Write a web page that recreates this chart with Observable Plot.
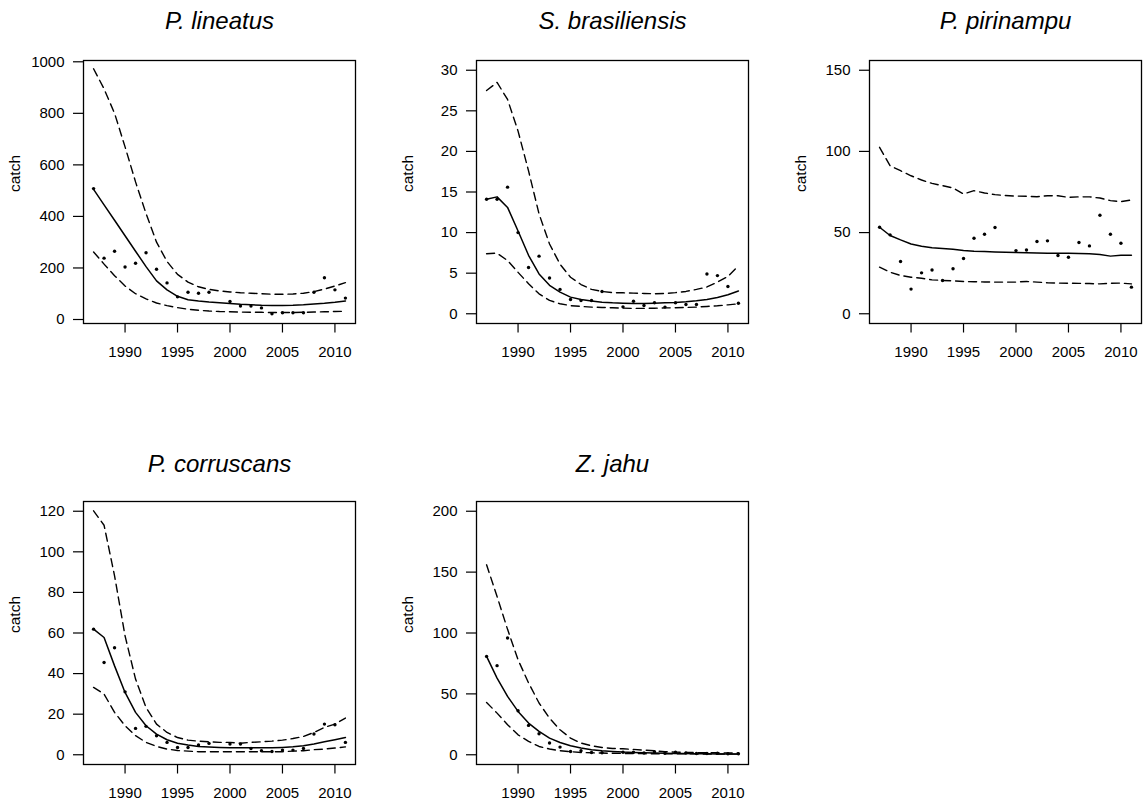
<!DOCTYPE html>
<html>
<head>
<meta charset="utf-8">
<script src="https://cdn.jsdelivr.net/npm/d3@7"></script>
<script src="https://cdn.jsdelivr.net/npm/@observablehq/plot@0.6"></script>
<style>
  html, body { margin: 0; padding: 0; background: #fff; }
  #wrap { position: relative; width: 1144px; height: 810px; overflow: hidden; background: #fff; }
  .panel { position: absolute; }
</style>
</head>
<body>
<div id="wrap"></div>
<script>
const years = [1987,1988,1989,1990,1991,1992,1993,1994,1995,1996,1997,1998,1999,2000,2001,2002,2003,2004,2005,2006,2007,2008,2009,2010,2011];
const xTicks = [1990,1995,2000,2005,2010];

// P. lineatus
const lineatusObs = [508,238,265,204,218,259,195,142,88,106,102,106,null,70,52,52,45,22,26,26,26,106,162,115,83];
const lineatusFit = [505,445,385,325,265,205,150,115,90,77,72,68,65,62,59,57,55,54,54,55,57,60,63,67,72];
const lineatusLo  = [262,215,170,130,100,80,64,54,46,40,36,33,31,30,29,28,28,27,27,27,28,29,30,31,32];
const lineatusHi  = [973,895,800,670,534,411,300,225,175,145,127,117,111,107,104,102,100,98,98,99,102,108,118,130,143];
const lineatusTicks = [0,200,400,600,800,1000];

// S. brasiliensis
const brasObs = [14.1,14.1,15.6,10.0,5.7,7.1,4.4,3.0,1.76,1.64,1.64,2.75,null,0.85,1.55,1.02,1.35,0.82,1.35,1.14,1.14,4.9,4.7,3.36,1.3];
const brasFit = [14.1,14.4,13.1,10.2,7.2,4.9,3.5,2.66,2.05,1.76,1.56,1.43,1.35,1.3,1.27,1.27,1.3,1.35,1.4,1.48,1.6,1.76,2.0,2.34,2.8];
const brasLo  = [7.4,7.46,6.56,5.1,3.7,2.46,1.64,1.23,1.0,0.9,0.82,0.78,0.74,0.7,0.66,0.66,0.68,0.72,0.74,0.78,0.82,0.9,0.98,1.1,1.23];
const brasHi  = [27.5,28.5,26.4,22.5,17.6,12.3,8.6,6.1,4.5,3.6,3.0,2.75,2.6,2.58,2.54,2.5,2.46,2.5,2.6,2.75,3.0,3.3,3.9,4.6,5.9];
const brasTicks = [0,5,10,15,20,25,30];

// P. pirinampu
const pirinObs = [53.3,48.6,32.2,15.2,25.2,27.0,20.5,27.7,34.0,46.5,49.0,53.1,null,38.9,39.3,44.5,44.9,35.9,34.8,43.9,41.8,60.7,49.0,43.4,16.4];
const pirinFit = [53.3,48.2,45.5,43.0,41.6,40.6,40.2,39.8,38.9,38.5,38.3,38.1,37.9,37.7,37.6,37.5,37.3,37.2,37.2,37.1,36.9,36.5,35.5,36.1,36.0];
const pirinLo  = [28.7,25.6,23.6,22.5,21.9,20.9,20.5,20.3,19.9,19.7,19.6,19.5,19.5,19.5,19.9,19.5,19.1,18.9,18.8,18.7,18.6,18.4,18.8,18.9,18.4];
const pirinHi  = [102.5,91.2,88.1,85,82.4,80.3,78.9,77.5,73.8,75.8,74.4,73.4,72.8,72.5,72.4,72.1,72.7,72.7,71.7,72.0,72.0,71.3,69.7,69.1,70.1];
const pirinTicks = [0,50,100,150];

// P. corruscans
const corrObs = [61.9,45.5,52.7,31.0,13.0,14.0,9.4,6.1,3.6,3.6,4.8,5.6,null,5.3,5.3,3.1,2.0,1.6,2.3,2.3,3.1,10.2,15.1,14.8,6.1];
const corrFit = [61.9,57.8,43.8,30.7,20.9,14.3,10.2,7.4,5.7,4.8,4.1,3.8,3.6,3.4,3.4,3.4,3.4,3.4,3.6,3.9,4.4,5.3,6.4,7.4,8.5];
const corrLo  = [33.2,29.9,20.9,14.3,9.4,6.1,4.1,2.8,2.1,1.8,1.5,1.5,1.5,1.5,1.5,1.5,1.5,1.5,1.5,1.8,2.0,2.5,2.8,3.3,3.9];
const corrHi  = [120.2,113.1,88.2,58.6,37.3,23.3,15.1,11.0,8.5,7.2,6.7,6.4,6.1,6.1,5.7,6.1,6.4,6.7,7.2,8.0,9.0,11.0,13.5,15.1,18.1];
const corrTicks = [0,20,40,60,80,100,120];

// Z. jahu
const jahuObs = [80.8,73.2,95.9,36.2,24.1,17.3,9.6,6.3,2.7,3.3,1.9,1.6,null,2.0,2.0,1.5,2.5,1.2,2.0,1.5,1.0,1.0,1.2,0.8,0.8];
const jahuFit = [80.8,63.0,47.9,35.6,26.0,19.2,13.7,10.1,7.4,5.5,4.1,3.3,2.7,2.2,1.9,1.6,1.4,1.3,1.1,1.0,0.9,0.8,0.7,0.65,0.6];
const jahuLo  = [43,34.2,24.7,16.4,11.0,6.8,4.7,3.3,2.5,1.9,1.6,1.4,1.2,1.1,1.0,0.9,0.85,0.8,0.8,0.75,0.7,0.65,0.6,0.55,0.5];
const jahuHi  = [156,130,103,78,59,42.5,30.1,20.5,13.7,9.6,7.4,6.0,5.2,4.9,4.4,3.8,3.3,2.5,2.2,1.9,1.8,1.7,1.6,1.5,1.4];
const jahuTicks = [0,50,100,150,200];

const FONT = "'Liberation Sans', Arial, Helvetica, sans-serif";

function panel(name, obs, fit, lo, hi, yDomain, yTicks, titleDy) {
  const rows = years.map((yr, i) => ({year: yr, obs: obs[i], fit: fit[i], lo: lo[i], hi: hi[i]}));
  const pts = rows.filter(d => d.obs != null);
  return Plot.plot({
    width: 358,
    height: 368,
    marginLeft: 83,
    marginRight: 3,
    marginTop: 60,
    marginBottom: 45,
    style: {fontFamily: FONT, fontSize: "15px", color: "#000", background: "transparent", overflow: "visible"},
    x: {domain: [1986.04, 2011.96]},
    y: {domain: yDomain},
    marks: [
      Plot.axisX({ticks: xTicks, tickFormat: d => String(d), tickSize: 9.5, tickPadding: 13, label: null, fontSize: 15, strokeWidth: 1.2}),
      Plot.axisY({ticks: yTicks, tickFormat: d => String(d), tickSize: 10, tickPadding: 9, label: null, fontSize: 15, strokeWidth: 1.2}),
      Plot.line(rows, {x: "year", y: "hi", stroke: "#000", strokeWidth: 1.4, strokeDasharray: "8,5"}),
      Plot.line(rows, {x: "year", y: "lo", stroke: "#000", strokeWidth: 1.4, strokeDasharray: "8,5"}),
      Plot.line(rows, {x: "year", y: "fit", stroke: "#000", strokeWidth: 1.5}),
      Plot.dot(pts, {x: "year", y: "obs", r: 1.7, fill: "#000", stroke: null}),
      Plot.frame({stroke: "#000", strokeWidth: 1.3}),
      Plot.text([name], {text: d => d, frameAnchor: "top", lineAnchor: "bottom", dy: titleDy, fontSize: 24, fontStyle: "italic", fill: "#000"}),
      Plot.text(["catch"], {text: d => d, frameAnchor: "left", dx: -68, rotate: -90, fontSize: 15.5, fill: "#000"})
    ]
  });
}

const wrap = document.getElementById("wrap");
const specs = [
  {name: "P. lineatus", o: lineatusObs, f: lineatusFit, l: lineatusLo, h: lineatusHi, d: [-15.5, 1005], t: lineatusTicks, left: 0, top: 0, dy: -32},
  {name: "S. brasiliensis", o: brasObs, f: brasFit, l: brasLo, h: brasHi, d: [-1.2, 31.2], t: brasTicks, left: 393, top: 0, dy: -32},
  {name: "P. pirinampu", o: pirinObs, f: pirinFit, l: pirinLo, h: pirinHi, d: [-6, 156], t: pirinTicks, left: 786, top: 0, dy: -32},
  {name: "P. corruscans", o: corrObs, f: corrFit, l: corrLo, h: corrHi, d: [-4.8, 124.8], t: corrTicks, left: 0, top: 441, dy: -29.5},
  {name: "Z. jahu", o: jahuObs, f: jahuFit, l: jahuLo, h: jahuHi, d: [-8, 208], t: jahuTicks, left: 393, top: 441, dy: -29.5}
];
for (const s of specs) {
  const div = document.createElement("div");
  div.className = "panel";
  div.style.left = s.left + "px";
  div.style.top = s.top + "px";
  div.appendChild(panel(s.name, s.o, s.f, s.l, s.h, s.d, s.t, s.dy));
  wrap.appendChild(div);
}
</script>
</body>
</html>
